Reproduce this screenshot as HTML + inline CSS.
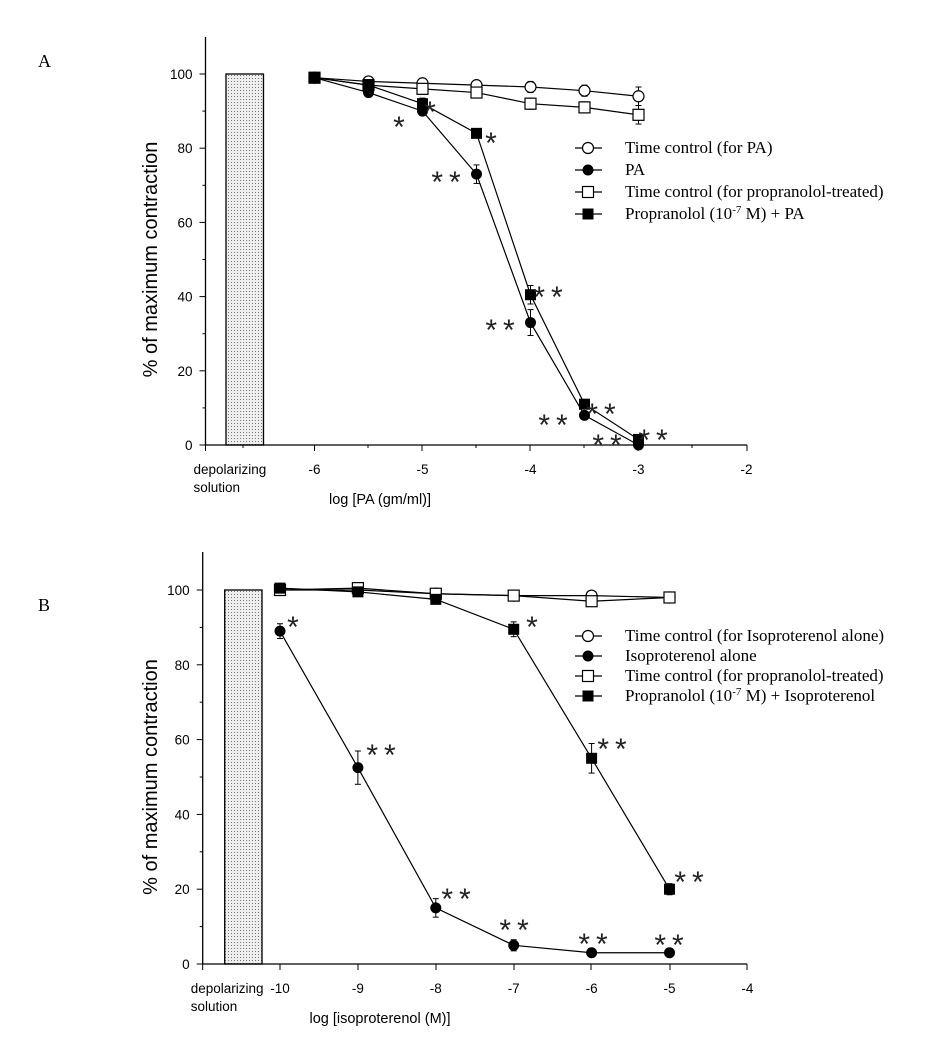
<!DOCTYPE html>
<html><head><meta charset="utf-8">
<style>
html,body{margin:0;padding:0;background:#fff;}
svg{display:block;}
.ax{font-family:"Liberation Sans",Arial,sans-serif;font-size:13.5px;fill:#000;}
.lg{font-family:"Liberation Serif","Times New Roman",serif;font-size:17px;fill:#000;}
.st{font-family:"Liberation Sans",Arial,sans-serif;font-size:30px;fill:#222;}
</style></head><body>
<svg id="s" width="944" height="1040" viewBox="0 0 944 1040" xmlns="http://www.w3.org/2000/svg">
<defs>
<pattern id="dots" width="3" height="3" patternUnits="userSpaceOnUse">
<rect width="3" height="3" fill="#eee"/><rect width="1" height="1" fill="#777"/>
</pattern>
</defs>
<text x="38" y="67" class="lg" style="font-size:18px">A</text>
<text x="38" y="611" class="lg" style="font-size:18px">B</text>
</svg>
<script>
var s=document.getElementById('s'),NS='http://www.w3.org/2000/svg';
function el(t,a,txt){var e=document.createElementNS(NS,t);for(var k in a)e.setAttribute(k,a[k]);if(txt!=null)e.textContent=txt;s.appendChild(e);return e;}
function panel(P){
 var X=function(v){return P.x0+(v-P.v0)*P.dx;},Y=function(v){return P.y0-(v)*(P.y0-P.y100)/100;};
 el('rect',{x:P.bx1,y:Y(100),width:P.bx2-P.bx1,height:P.y0-Y(100),fill:'url(#dots)',stroke:'#000','stroke-width':1.3});
 el('line',{x1:P.ax,y1:P.ytop,x2:P.ax,y2:P.y0,stroke:'#000','stroke-width':1.3});
 el('line',{x1:P.ax,y1:P.y0,x2:P.xend,y2:P.y0,stroke:'#000','stroke-width':1.3});
 for(var v=0;v<=100;v+=20){el('line',{x1:P.ax-6,y1:Y(v),x2:P.ax,y2:Y(v),stroke:'#000'});
  el('text',{x:P.ax-13,y:Y(v)+5,'text-anchor':'end',class:'ax'},v);}
 for(var v=10;v<=90;v+=20)el('line',{x1:P.ax-3,y1:Y(v),x2:P.ax,y2:Y(v),stroke:'#000'});
 P.ticks.forEach(function(t){el('line',{x1:t,y1:P.y0,x2:t,y2:P.y0+6,stroke:'#000'});});
 P.minor.forEach(function(t){el('line',{x1:t,y1:P.y0,x2:t,y2:P.y0+3,stroke:'#000'});});
 P.labs.forEach(function(l){el('text',{x:X(l),y:P.y0+29,'text-anchor':'middle',class:'ax'},l);});
 el('text',{x:P.ax-12,y:P.y0+29,class:'ax'},'depolarizing');
 el('text',{x:P.ax-12,y:P.y0+47,class:'ax'},'solution');
 el('text',{x:P.tx,y:P.y0+59,'text-anchor':'middle',class:'ax',style:'font-size:14.5px'},P.title);
 el('text',{x:0,y:0,transform:'translate(157,'+((P.y0+P.y100)/2)+') rotate(-90)','text-anchor':'middle',class:'ax',style:'font-size:20px'},'% of maximum contraction');
 P.series.forEach(function(S){
  var pts=S.d.map(function(v,i){return [X(P.xs[i]),Y(v)];});
  el('polyline',{points:pts.map(function(p){return p.join(',');}).join(' '),fill:'none',stroke:'#000','stroke-width':1.2});
  pts.forEach(function(p,i){var e=S.e?S.e[i]:0;if(e>0){el('line',{x1:p[0],y1:p[1]-e*3.7,x2:p[0],y2:p[1]+e*3.7,stroke:'#000'});
   el('line',{x1:p[0]-3,y1:p[1]-e*3.7,x2:p[0]+3,y2:p[1]-e*3.7,stroke:'#000'});el('line',{x1:p[0]-3,y1:p[1]+e*3.7,x2:p[0]+3,y2:p[1]+e*3.7,stroke:'#000'});}});
  pts.forEach(function(p){mk(S.m,p[0],p[1]);});
 });
 P.series.forEach(function(S,i){var y=P.ly[i];
  el('line',{x1:575,y1:y,x2:602,y2:y,stroke:'#000','stroke-width':1.2});mk(S.m,588,y);
  var t=el('text',{x:625,y:y+5,class:'lg'});t.innerHTML=S.n;});
 P.stars.forEach(function(a){el('text',{x:a[0]+(a[2].length>1?3:0),y:a[1]+17,'text-anchor':'middle',class:'st','letter-spacing':(a[2].length>1?'6':'0')},a[2]);});
}
function mk(m,x,y){
 if(m=='oc')el('circle',{cx:x,cy:y,r:5.5,fill:'#fff',stroke:'#000','stroke-width':1.2});
 if(m=='fc')el('circle',{cx:x,cy:y,r:5.5,fill:'#000'});
 if(m=='os')el('rect',{x:x-5.5,y:y-5.5,width:11,height:11,fill:'#fff',stroke:'#000','stroke-width':1.2});
 if(m=='fs')el('rect',{x:x-5.5,y:y-5.5,width:11,height:11,fill:'#000'});
}
panel({x0:314.5,v0:-6,dx:108,y0:445,y100:74,ytop:37,ax:205.5,xend:747,bx1:226,bx2:263.5,
 ticks:[205.5,314.5,422,530,638,747],minor:[243,368,476,584,692],labs:[-6,-5,-4,-3,-2],tx:380,title:'log [PA (gm/ml)]',
 xs:[-6,-5.5,-5,-4.5,-4,-3.5,-3],ly:[148,170,192,214],
 series:[
 {m:'oc',n:'Time control (for PA)',d:[99,98,97.5,97,96.5,95.5,94],e:[0,0,1,0,1.5,1.5,2.5]},
 {m:'fc',n:'PA',d:[99,95,90,73,33,8,0],e:[0,0,1,2.5,3.5,1,0]},
 {m:'os',n:'Time control (for propranolol-treated)',d:[99,97,96,95,92,91,89],e:[0,0,1,0,1.5,1.5,2.5]},
 {m:'fs',n:'Propranolol (10<tspan font-size="11" dy="-6">-7</tspan><tspan dy="6"> M) + PA</tspan>',d:[99,97,92,84,40.5,11,1.5],e:[0,0,1.5,0,2.5,0,0]}],
 stars:[[399,120,'*'],[430,105,'*'],[491,136,'*'],[446,175,'**'],[548,290,'**'],[500,323,'**'],[601,407,'**'],[553,418,'**'],[607,438,'**'],[653,433,'**']]
});
panel({x0:280,v0:-10,dx:77.9,y0:964,y100:590,ytop:552,ax:202.7,xend:747,bx1:224.7,bx2:262,
 ticks:[202.7,280,358,436,514,591,670,747],minor:[],labs:[-10,-9,-8,-7,-6,-5,-4],tx:380,title:'log [isoproterenol (M)]',
 xs:[-10,-9,-8,-7,-6,-5],ly:[636,656,676,696],
 series:[
 {m:'oc',n:'Time control (for Isoproterenol alone)',d:[100,100,99,98.5,98.5,98]},
 {m:'fc',n:'Isoproterenol alone',d:[89,52.5,15,5,3,3],e:[2,4.5,2.5,1.5,1,0]},
 {m:'os',n:'Time control (for propranolol-treated)',d:[100,100.5,99,98.5,97,98]},
 {m:'fs',n:'Propranolol (10<tspan font-size="11" dy="-6">-7</tspan><tspan dy="6"> M) + Isoproterenol</tspan>',d:[100.5,99.5,97.5,89.5,55,20],e:[0,0,0,2,4,1.5]}],
 stars:[[293,620,'*'],[381,748,'**'],[532,620,'*'],[612,742,'**'],[456,892,'**'],[514,923,'**'],[689,875,'**'],[593,937,'**'],[669,938,'**']]
});
</script>
</body></html>
